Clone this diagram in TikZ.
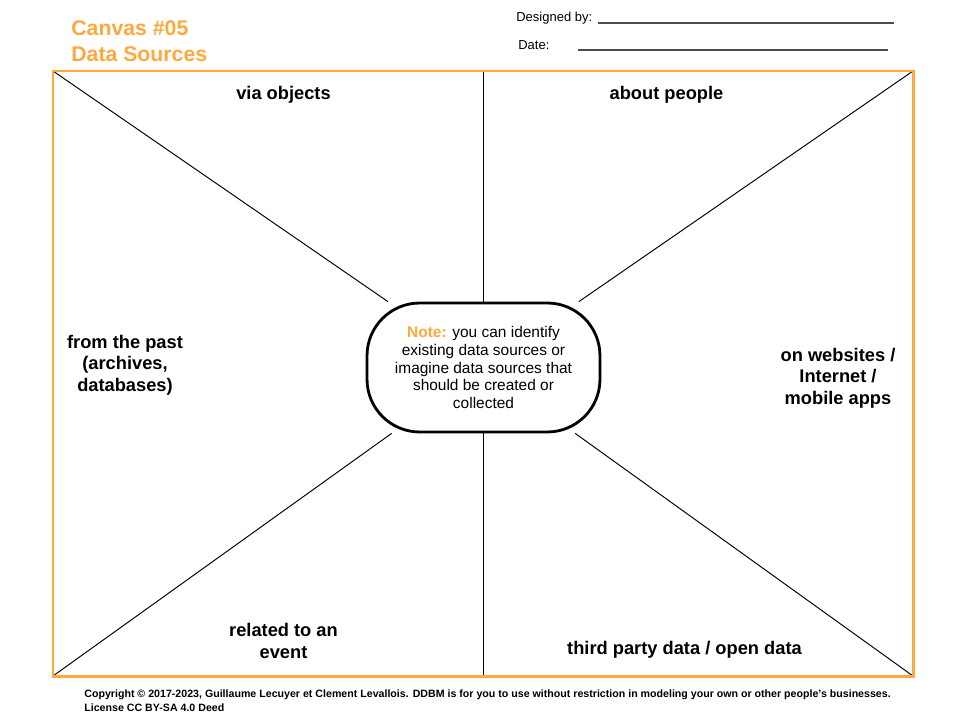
\documentclass[tikz,border=0pt]{standalone}
\usepackage{fontspec}
\setmainfont{Liberation Sans}
\usepackage{xcolor}
\usetikzlibrary{positioning,calc}
\definecolor{canvasorange}{HTML}{FFA83C}

\begin{document}
\begin{tikzpicture}[x=0.02cm, y=-0.02cm, every node/.style={inner sep=0pt}, title/.style={anchor=west, text=canvasorange, font=\bfseries\fontsize{12.1}{14.7}\selectfont}, field/.style={anchor=west, font=\fontsize{7.4}{9}\selectfont}, blank/.style={draw=black!70, line width=0.6pt}, frame/.style={draw=canvasorange, line width=1.7pt}, split/.style={draw=black, line width=0.55pt}, area/.style={align=center, font=\bfseries\fontsize{10.4}{12.2}\selectfont}, note/.style={draw, line width=1.6pt, fill=white, rounded corners=30pt, align=center, minimum width=4.66cm, minimum height=2.58cm, font=\fontsize{8.8}{10.2}\selectfont}]
\useasboundingbox (0,0) rectangle (960,720);
% header
\node[title] (t1) at (71,28) {Canvas \#05};
\node[title] (t2) at (71,54) {Data Sources};
\node[field] (designed) at (516,18) {Designed by:};
\node[field] (date) at (518,45) {Date:};
\coordinate (d1) at (598,23);
\coordinate (d2) at (894,23);
\coordinate (e1) at (578,50);
\coordinate (e2) at (888,50);
\draw[blank] (d1) -- (d2);
\draw[blank] (e1) -- (e2);
% canvas frame
\coordinate (tl) at (53,71);
\coordinate (tr) at (913,71);
\coordinate (bl) at (53,676);
\coordinate (br) at (913,676);
\coordinate (tm) at (483.5,71);
\coordinate (bm) at (483.5,676);
\node[note] (center) at (483.5,367.5) {\textcolor{canvasorange}{\textbf{Note:}} you can identify\\existing data sources or\\imagine data sources that\\should be created or\\collected};
\draw[split] (tl) -- (center);
\draw[split] (tr) -- (center);
\draw[split] (bl) -- (center);
\draw[split] (br) -- (center);
\draw[split] (tm) -- (center.north);
\draw[split] (center.south) -- (bm);
\draw[frame] (tl) rectangle (br);
% areas
\node[area] (objects) at (283.5,95) {via objects};
\node[area] (people) at (666.5,95) {about people};
\node[area] (past) at (125,365) {from the past\\(archives,\\databases)};
\node[area] (web) at (838,378) {on websites /\\Internet /\\mobile apps};
\node[area] (event) at (283.5,641) {related to an\\event};
\node[area] (third) at (684.5,650) {third party data / open data};
% footer
\node[anchor=north west, align=left, font=\bfseries\fontsize{6.05}{8}\selectfont] (copy) at (84,689) {Copyright \textcopyright{} 2017-2023, Guillaume Lecuyer et Clement Levallois. DDBM is for you to use without restriction in modeling your own or other people's businesses.\\License CC BY-SA 4.0 Deed};
\end{tikzpicture}
\end{document}
